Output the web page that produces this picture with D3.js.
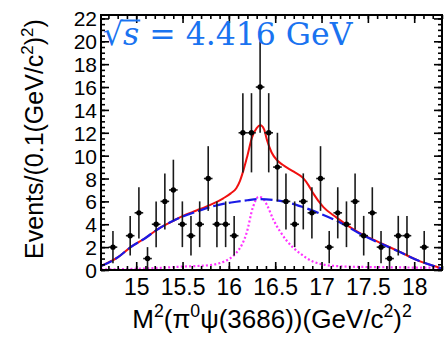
<!DOCTYPE html>
<html><head><meta charset="utf-8">
<script src="https://cdn.jsdelivr.net/npm/d3@7"></script>
<style>
html,body{margin:0;padding:0;background:#fff;}
svg{display:block;}
</style></head>
<body>
<svg id="chart" width="444" height="338"></svg>
<script>
// Binned data: M^2(pi0 psi(3686)) bin centres and event counts
const binCenters = [14.749, 14.935, 15.029, 15.122, 15.215, 15.309, 15.401, 15.498, 15.591, 15.685,
  15.777, 15.871, 15.965, 16.057, 16.151, 16.244, 16.337, 16.430, 16.524, 16.616,
  16.710, 16.803, 16.896, 16.989, 17.083, 17.175, 17.269, 17.362, 17.455, 17.548,
  17.642, 17.734, 17.828, 17.922, 18.108];
const counts = [2, 3, 5, 1, 4, 6, 7, 4, 3, 4,
  8, 4, 4, 3, 12, 12, 16, 12, 9, 6,
  4, 6, 5, 8, 2, 5, 4, 6, 3, 5,
  2, 1, 3, 3, 2];
const binHalfWidth = 0.0465;

// Fit components
const bgMass  = [14.62, 14.8, 14.94, 15.1, 15.22, 15.4, 15.51, 15.65, 15.8, 15.95, 16.08, 16.2, 16.33, 16.5, 16.62, 16.8, 16.98, 17.19, 17.41, 17.6, 17.84, 18.05, 18.27, 18.3];
const bgYield = [0.35, 1.1, 2.0, 2.8, 3.5, 4.3, 4.7, 5.1, 5.5, 5.8, 5.97, 6.1, 6.2, 6.1, 5.94, 5.5, 4.95, 4.2, 3.2, 2.45, 1.6, 0.8, 0.2, 0.12];

const sigMass  = [14.62, 15.0, 15.51, 15.8, 15.95, 16.01, 16.08, 16.14, 16.19, 16.26, 16.32, 16.36, 16.41, 16.48, 16.55, 16.62, 16.76, 16.91, 17.05, 17.27, 17.6, 18.3];
const sigYield = [0.05, 0.1, 0.3, 0.43, 0.75, 1.0, 1.5, 2.2, 3.2, 5.5, 6.4, 6.3, 5.7, 4.4, 3.4, 2.6, 1.5, 0.73, 0.43, 0.3, 0.25, 0.2];

const totMass  = [14.62, 14.8, 14.94, 15.1, 15.22, 15.4, 15.51, 15.65, 15.8, 15.94, 16.02, 16.08, 16.12, 16.16, 16.2, 16.25, 16.3, 16.34, 16.38, 16.41, 16.46, 16.52, 16.58, 16.7, 16.8, 16.86, 16.91, 17.02, 17.16, 17.27, 17.41, 17.6, 17.84, 18.05, 18.27, 18.3];
const totYield = [0.35, 1.1, 2.0, 2.8, 3.5, 4.3, 4.75, 5.2, 5.7, 6.27, 6.7, 7.15, 7.8, 8.8, 10.0, 11.6, 12.4, 12.65, 12.3, 11.4, 10.3, 9.6, 9.2, 8.6, 8.05, 7.4, 6.7, 5.5, 4.6, 3.95, 3.25, 2.5, 1.6, 0.8, 0.2, 0.12];

// Axis ticks
const xTickValues = [15, 15.5, 16, 16.5, 17, 17.5, 18];
const yTickValues = [0, 2, 4, 6, 8, 10, 12, 14, 16, 18, 20, 22];

const svg = d3.select("#chart");
const L = 101, R = 442, T = 15, B = 270;
const x = d3.scaleLinear().domain([14.62, 18.3]).range([L, R]);
const y = d3.scaleLinear().domain([0, 22.3]).range([B, T]);

const sansFont = "'Liberation Sans', Arial, sans-serif";

svg.append("defs").append("clipPath").attr("id", "plotClip")
  .append("rect").attr("x", L).attr("y", T).attr("width", R - L).attr("height", B - T);

const plot = svg.append("g").attr("clip-path", "url(#plotClip)");

function curve(xs, ys) {
  return d3.line().x((d, i) => x(xs[i])).y((d, i) => y(ys[i])).curve(d3.curveMonotoneX)(xs);
}

// signal (dotted magenta)
plot.append("path").attr("d", curve(sigMass, sigYield))
  .attr("fill", "none").attr("stroke", "#ff33ff").attr("stroke-width", 2.2)
  .attr("stroke-dasharray", "2,2.2");
// total fit (solid red)
plot.append("path").attr("d", curve(totMass, totYield))
  .attr("fill", "none").attr("stroke", "#f01010").attr("stroke-width", 2);
// background (dashed blue)
plot.append("path").attr("d", curve(bgMass, bgYield))
  .attr("fill", "none").attr("stroke", "#1a1ae6").attr("stroke-width", 2.2)
  .attr("stroke-dasharray", "12,4");

// data points with error bars
const pts = plot.append("g").selectAll("g").data(binCenters).join("g");
pts.append("line")
  .attr("x1", d => x(d)).attr("x2", d => x(d))
  .attr("y1", (d, i) => y(counts[i] + Math.sqrt(counts[i])))
  .attr("y2", (d, i) => y(Math.max(0, counts[i] - Math.sqrt(counts[i]))))
  .attr("stroke", "#1a1a1a").attr("stroke-width", 1.6);
pts.append("line")
  .attr("x1", d => x(d - binHalfWidth)).attr("x2", d => x(d + binHalfWidth))
  .attr("y1", (d, i) => y(counts[i])).attr("y2", (d, i) => y(counts[i]))
  .attr("stroke", "#1a1a1a").attr("stroke-width", 1.6);
pts.append("circle")
  .attr("cx", d => x(d)).attr("cy", (d, i) => y(counts[i])).attr("r", 2.7)
  .attr("fill", "#000");

// frame
svg.append("rect").attr("x", L).attr("y", T).attr("width", R - L).attr("height", B - T)
  .attr("fill", "none").attr("stroke", "#000").attr("stroke-width", 2);

// ticks (inward on all four sides)
const xMinor = d3.range(14.7, 18.31, 0.1).map(v => +v.toFixed(2));
const yMinor = d3.range(0, 22.3, 0.5);
function tickGroup(axisGen, tx, ty) {
  const g = svg.append("g").attr("transform", `translate(${tx},${ty})`).call(axisGen);
  g.select(".domain").remove();
  g.selectAll(".tick line").attr("stroke", "#000").attr("stroke-width", 1.6);
  return g;
}
// minor
tickGroup(d3.axisBottom(x).tickValues(xMinor).tickSize(-4).tickFormat(""), 0, B);
tickGroup(d3.axisTop(x).tickValues(xMinor).tickSize(-4).tickFormat(""), 0, T);
tickGroup(d3.axisLeft(y).tickValues(yMinor).tickSize(-4).tickFormat(""), L, 0);
tickGroup(d3.axisRight(y).tickValues(yMinor).tickSize(-4).tickFormat(""), R, 0);
// major
const gx = tickGroup(d3.axisBottom(x).tickValues(xTickValues).tickSize(-8).tickPadding(25).tickFormat(d => d), 0, B);
gx.selectAll("text").attr("font-family", sansFont).attr("font-size", 23).attr("fill", "#000").attr("dy", 0);
tickGroup(d3.axisTop(x).tickValues(xTickValues).tickSize(-8).tickFormat(""), 0, T);
const gy = tickGroup(d3.axisLeft(y).tickValues(yTickValues).tickSize(-8).tickPadding(4).tickFormat(d => d), L, 0);
gy.selectAll("text").attr("font-family", sansFont).attr("font-size", 21).attr("fill", "#000")
  .attr("dy", "0.36em");
tickGroup(d3.axisRight(y).tickValues(yTickValues).tickSize(-8).tickFormat(""), R, 0);

// rich text with superscripts
function richText(g, parts, fs) {
  let raised = false;
  parts.forEach(p => {
    const ts = g.append("tspan").text(p.t);
    if (p.sup && !raised) { ts.attr("font-size", fs * 0.68).attr("dy", -fs * 0.42); raised = true; }
    else if (!p.sup && raised) { ts.attr("dy", fs * 0.42); raised = false; }
  });
}

// x-axis title
const xt = svg.append("text").attr("x", 272).attr("y", 328).attr("text-anchor", "middle")
  .attr("font-family", sansFont).attr("font-size", 26).attr("fill", "#000");
richText(xt, [{t: "M"}, {t: "2", sup: true}, {t: "(π"}, {t: "0", sup: true}, {t: "ψ(3686))(GeV/c"}, {t: "2", sup: true}, {t: ")"}, {t: "2", sup: true}], 26);

// y-axis title
const yt = svg.append("text").attr("transform", "translate(43,139) rotate(-90)").attr("text-anchor", "middle")
  .attr("font-family", sansFont).attr("font-size", 25).attr("fill", "#000");
richText(yt, [{t: "Events/(0.1(GeV/c"}, {t: "2", sup: true}, {t: ")"}, {t: "2", sup: true}, {t: ")"}], 25);

// energy label
const title = svg.append("text").attr("x", 103).attr("y", 45)
  .attr("font-family", "'DejaVu Serif', serif").attr("font-size", 31.5).attr("fill", "#1a73f0");
title.append("tspan").text("√");
title.append("tspan").attr("font-style", "italic").text("s");
title.append("tspan").text(" = 4.416 GeV");
const sExt = title.node().getExtentOfChar(1);
const rExt = title.node().getExtentOfChar(0);
svg.append("line")
  .attr("x1", rExt.x + rExt.width - 2).attr("x2", sExt.x + sExt.width + 1)
  .attr("y1", 20.5).attr("y2", 20.5)
  .attr("stroke", "#1a73f0").attr("stroke-width", 2);
</script>
</body></html>
